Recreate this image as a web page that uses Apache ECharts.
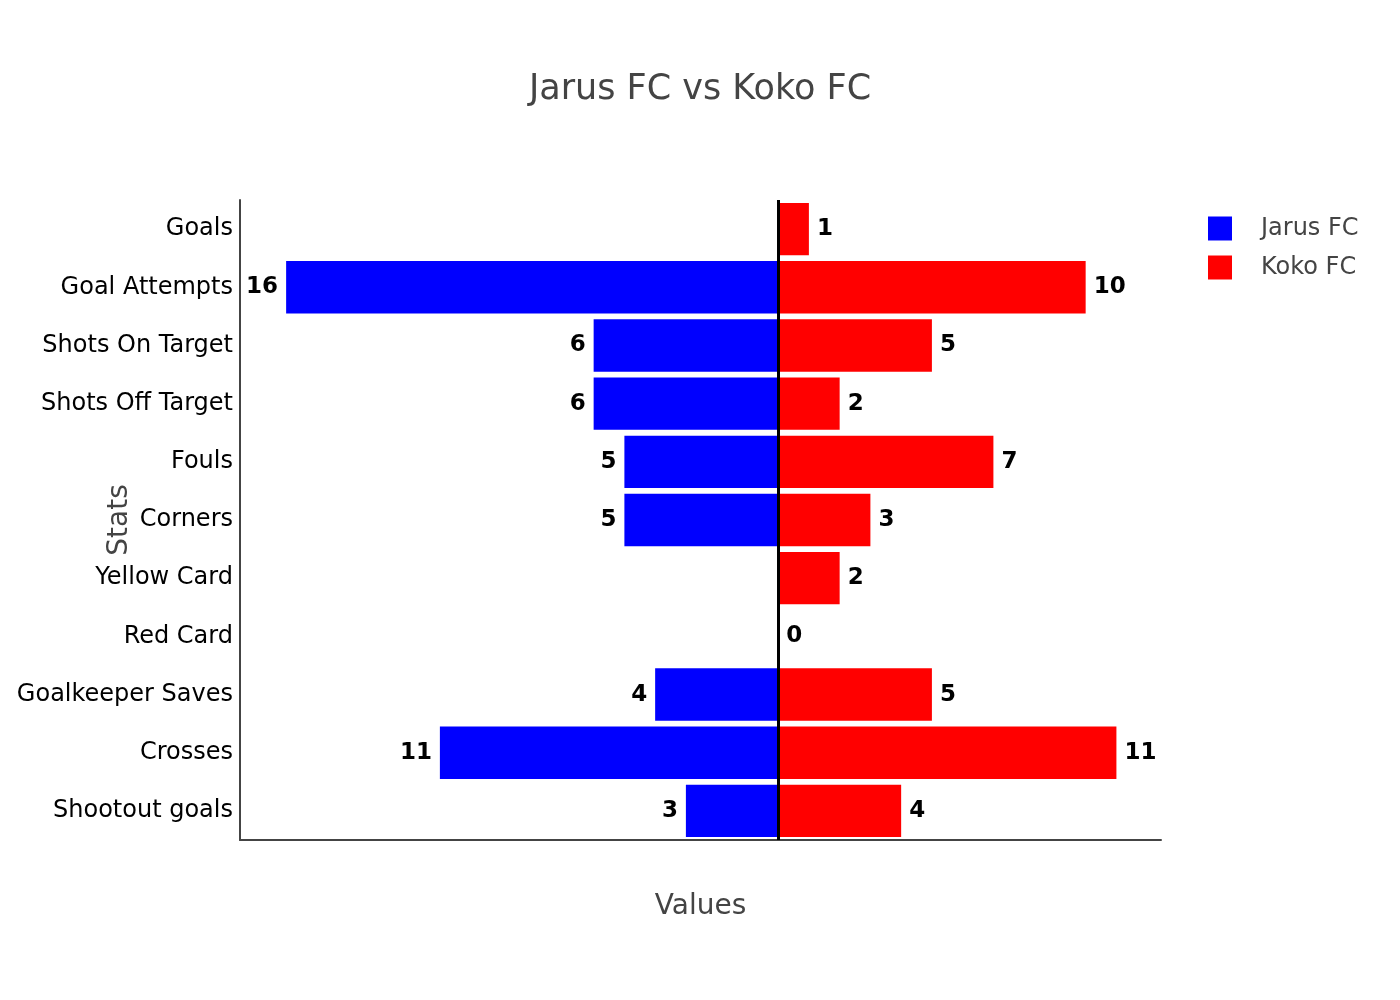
<!doctype html>
<html lang="en">
<head>
    <meta charset="UTF-8">
    <script src="https://cdn.jsdelivr.net/npm/echarts@6/dist/echarts.min.js"></script>
    <title>Jarus FC vs Koko FC</title>
    <style>
        body { margin: 0; background: #fff; }
    </style>
</head>
<body>
<div id="main" style="width: 1400px;height:1000px;"></div>
<script>
    var stats = ['Goals', 'Goal Attempts', 'Shots On Target', 'Shots Off Target', 'Fouls', 'Corners',
        'Yellow Card', 'Red Card', 'Goalkeeper Saves', 'Crosses', 'Shootout goals'];
    // null = no value shown for that team
    var jarus = [null, 16, 6, 6, 5, 5, null, null, 4, 11, 3];
    var koko = [1, 10, 5, 2, 7, 3, 2, 0, 5, 11, 4];

    var font = 'DejaVu Sans';
    var myChart = echarts.init(document.getElementById('main'));

    var jarusNeg = jarus.map(function (v) { return v === null ? null : -v; });

    var labelStyle = {
        show: true,
        color: '#000',
        fontWeight: 'bold',
        fontSize: 23,
        fontFamily: font,
        distance: 8,
        formatter: function (p) {
            return p.value === null || p.value === undefined ? '' : Math.abs(p.value);
        }
    };

    var option = {
        animation: false,
        title: {
            text: 'Jarus FC vs Koko FC',
            left: 'center',
            top: 67,
            textStyle: { fontFamily: font, fontSize: 35, fontWeight: 'normal', color: '#444' }
        },
        legend: {
            orient: 'vertical',
            left: 1203,
            top: 209,
            itemWidth: 24,
            itemHeight: 24,
            itemGap: 10,
            icon: 'rect',
            data: ['Jarus FC', 'Koko FC'],
            textStyle: { fontFamily: font, fontSize: 24, lineHeight: 24, color: '#444', padding: [5, 0, 0, 24] }
        },
        grid: {
            left: 240,
            right: 239,
            top: 200,
            bottom: 160
        },
        xAxis: {
            type: 'value',
            min: -17.5,
            max: 12.45,
            name: 'Values',
            nameLocation: 'middle',
            nameGap: 53,
            nameMoveOverlap: false,
            nameTextStyle: { fontFamily: font, fontSize: 28, color: '#444' },
            axisLine: { show: true, lineStyle: { color: '#444', width: 2 } },
            axisTick: { show: false },
            axisLabel: { show: false },
            splitLine: { show: false }
        },
        yAxis: {
            type: 'category',
            inverse: true,
            data: stats,
            name: 'Stats',
            nameLocation: 'middle',
            nameGap: 106,
            nameMoveOverlap: false,
            nameTextStyle: { fontFamily: font, fontSize: 28, color: '#444' },
            axisLine: { show: true, onZero: false, lineStyle: { color: '#444', width: 2 } },
            axisTick: { show: false },
            axisLabel: { fontFamily: font, fontSize: 24, color: '#000', margin: 7 },
            splitLine: { show: false }
        },
        series: [
            {
                name: 'Jarus FC',
                type: 'bar',
                stack: 'total',
                barCategoryGap: '10%',
                data: jarusNeg,
                itemStyle: { color: '#0000ff' },
                label: Object.assign({ position: 'left' }, labelStyle),
                markLine: {
                    silent: true,
                    symbol: 'none',
                    label: { show: false },
                    lineStyle: { color: '#000', width: 3, type: 'solid' },
                    data: [{ xAxis: 0 }]
                }
            },
            {
                name: 'Koko FC',
                type: 'bar',
                stack: 'total',
                barCategoryGap: '10%',
                data: koko,
                itemStyle: { color: '#ff0000' },
                label: Object.assign({ position: 'right' }, labelStyle)
            }
        ]
    };
    myChart.setOption(option);
</script>
</body>
</html>
